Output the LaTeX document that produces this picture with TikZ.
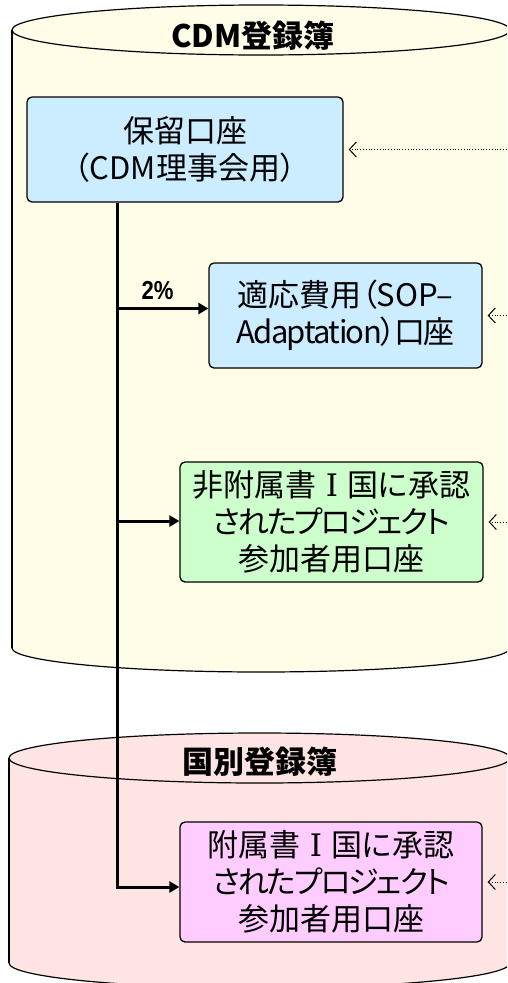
\documentclass[tikz,border=0pt]{standalone}
\usepackage{fontspec}
\setmainfont{Noto Sans CJK JP}
\newfontfamily\jp[RawFeature=+palt]{Noto Sans CJK JP}
\newfontfamily\romI{DejaVu Serif}
\newfontfamily\pctfont[FakeStretch=0.85]{Liberation Sans Bold}
\usetikzlibrary{arrows.meta}
\definecolor{cylY}{RGB}{255,253,232}
\definecolor{cylP}{RGB}{255,228,228}
\definecolor{boxB}{RGB}{204,236,255}
\definecolor{boxG}{RGB}{204,255,204}
\definecolor{boxM}{RGB}{255,204,255}
\newcommand{\RomOne}{\hspace{9pt}{\romI I}\hspace{9pt}}
\newcommand{\tight}[2]{{\addfontfeature{LetterSpace=#1}#2}}
\tikzset{
  acct/.style={draw=black, line width=1.3pt, rounded corners=5pt, inner sep=0pt,
    align=center, font=\jp\fontsize{31}{37}\selectfont},
  cyltitle/.style={inner sep=0pt, font=\jp\bfseries\fontsize{31}{34}\selectfont},
  cylline/.style={draw=black, line width=1.2pt},
  flow/.style={line width=3pt, -{Triangle[length=10pt,width=11pt]}},
  feed/.style={line width=0.8pt, dotted, shorten >=5pt, -{Straight Barb[length=7pt,width=15pt,line width=1pt]}},
}
\begin{document}
\begin{tikzpicture}[x=1pt,y=-1pt]
\useasboundingbox (0,0) rectangle (507,983);
\clip (0,0) rectangle (507,983);
\fill[white] (0,0) rectangle (507,983);
% ---- CDM registry cylinder
\fill[cylY] (12,30) rectangle (510,648);
\fill[cylY] (261,648) ellipse[x radius=249pt, y radius=24pt];
\draw[cylline] (12,30) -- (12,648);
\draw[cylline] (510,30) -- (510,648);
\begin{scope}
  \clip (0,648) rectangle (520,700);
  \draw[cylline] (261,648) ellipse[x radius=249pt, y radius=24pt];
\end{scope}
\filldraw[cylline, fill=cylY] (261,30) ellipse[x radius=249pt, y radius=25pt];
\node[cyltitle] (t1) at (253,36) {CDM登録簿};
% ---- national registry cylinder
\fill[cylP] (9,758) rectangle (510,963);
\fill[cylP] (259.5,963) ellipse[x radius=250.5pt, y radius=25pt];
\draw[cylline] (9,758) -- (9,963);
\draw[cylline] (510,758) -- (510,963);
\begin{scope}
  \clip (0,963) rectangle (520,1000);
  \draw[cylline] (259.5,963) ellipse[x radius=250.5pt, y radius=25pt];
\end{scope}
\filldraw[cylline, fill=cylP] (259.5,758) ellipse[x radius=250.5pt, y radius=25pt];
\node[cyltitle] (t2) at (260,762) {国別登録簿};
% ---- accounts
\node[acct, fill=boxB, minimum width=316pt, minimum height=105pt] (a1) at (185,149.5)
  {保留口座\\（CDM理事会用）};
\node[acct, fill=boxB, minimum width=273pt, minimum height=105pt] (a2) at (345.5,315.5)
  {適応費用（SOP–\\\tight{-5}{Adaptation）口座}};
\node[acct, fill=boxG, minimum width=303pt, minimum height=120pt] (a3) at (331.5,522)
  {非附属書\RomOne 国に承認\\\tight{-7}{されたプロジェクト}\\参加者用口座};
\node[acct, fill=boxM, minimum width=302pt, minimum height=120pt] (a4) at (331,882)
  {附属書\RomOne 国に承認\\\tight{-7}{されたプロジェクト}\\参加者用口座};
% ---- flows
\coordinate (trunk) at (117,0);
\coordinate (e2) at ([yshift=7pt]a2.west);
\coordinate (e3) at ([yshift=1pt]a3.west);
\coordinate (e4) at ([yshift=-5pt]a4.west);
\draw[flow] (trunk |- a1.south) |- (e4);
\draw[flow] (trunk |- e2) -- (e2);
\draw[flow] (trunk |- e3) -- (e3);
\node[font=\pctfont\fontsize{26}{28}\selectfont, inner sep=0pt] (pct) at (157.5,291) {2\%};
% ---- incoming (dotted)
\coordinate (edge) at (515,0);
\draw[feed] (edge |- a1.east) -- (a1.east);
\draw[feed] (edge |- a2.east) -- (a2.east);
\draw[feed] (edge |- a3.east) -- (a3.east);
\draw[feed] (edge |- a4.east) -- (a4.east);
\end{tikzpicture}
\end{document}
